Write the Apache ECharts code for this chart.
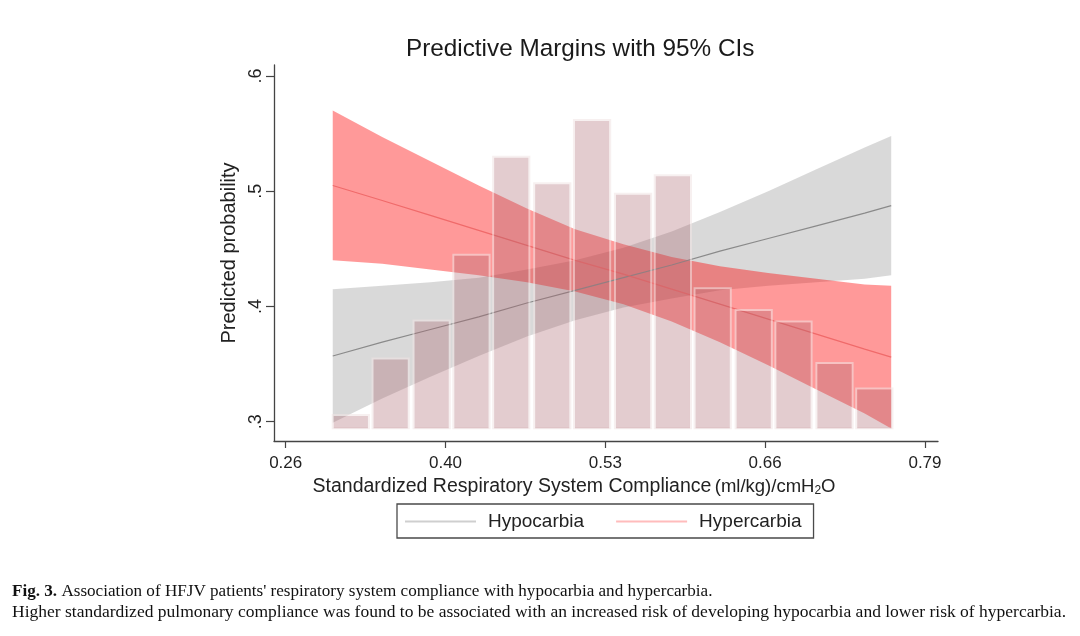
<!DOCTYPE html>
<html><head><meta charset="utf-8">
<script src="https://cdn.jsdelivr.net/npm/echarts@6/dist/echarts.min.js"></script>
<style>html,body{margin:0;padding:0;background:#fff}#c{width:1080px;height:636px}</style>
</head><body><div id="c"></div>
<script>
// ---- data ----
const xTickValues = [0.26, 0.3925, 0.525, 0.6575, 0.79];
const xTickLabels = ['0.26', '0.40', '0.53', '0.66', '0.79'];
const yTickValues = [0.3, 0.4, 0.5, 0.6];
const yTickLabels = ['.3', '.4', '.5', '.6'];

// histogram bins (centres) and bar tops
const binCenters = [0.314, 0.347, 0.381, 0.414, 0.447, 0.481, 0.514, 0.548, 0.581, 0.614, 0.648, 0.681, 0.715, 0.748];
const binHeights = [0.305, 0.354, 0.387, 0.444, 0.529, 0.506, 0.561, 0.497, 0.513, 0.415, 0.396, 0.386, 0.350, 0.328];
const binBase = 0.2943;

// predictive margins
const marginX   = [0.299, 0.34, 0.38, 0.42, 0.46, 0.50, 0.54, 0.58, 0.62, 0.66, 0.70, 0.74, 0.762];
const hypoFit   = [0.357, 0.369, 0.380, 0.391, 0.403, 0.414, 0.425, 0.436, 0.448, 0.459, 0.470, 0.481, 0.4875];
const hypoHi    = [0.415, 0.418, 0.421, 0.425, 0.432, 0.440, 0.451, 0.465, 0.482, 0.500, 0.519, 0.538, 0.548];
const hypoLo    = [0.299, 0.320, 0.339, 0.357, 0.374, 0.388, 0.399, 0.407, 0.414, 0.418, 0.421, 0.424, 0.427];
const hyperFit  = [0.505, 0.492, 0.479, 0.466, 0.453, 0.440, 0.428, 0.415, 0.402, 0.389, 0.376, 0.363, 0.356];
const hyperHi   = [0.570, 0.547, 0.526, 0.505, 0.485, 0.467, 0.454, 0.443, 0.435, 0.429, 0.424, 0.419, 0.418];
const hyperLo   = [0.440, 0.437, 0.432, 0.427, 0.421, 0.413, 0.402, 0.387, 0.369, 0.349, 0.328, 0.307, 0.294];

const seriesNames = ['Hypocarbia', 'Hypercarbia'];
const titleText = 'Predictive Margins with 95% CIs';
const yTitle = 'Predicted probability';
const captionLine1 = 'Association of HFJV patients\' respiratory system compliance with hypocarbia and hypercarbia.';
const captionLine2 = 'Higher standardized pulmonary compliance was found to be associated with an increased risk of developing hypocarbia and lower risk of hypercarbia.';

// ---- chart ----
const SANS = '"Liberation Sans", Arial, sans-serif';
const SERIF = '"Liberation Serif", "Times New Roman", serif';
const chart = echarts.init(document.getElementById('c'), null, {renderer: 'canvas'});

function nearestIdx(arr, v) {
  let b = 0;
  for (let i = 1; i < arr.length; i++) if (Math.abs(arr[i] - v) < Math.abs(arr[b] - v)) b = i;
  return b;
}

function bandSeries(name, lo, hi, color, z) {
  return {
    type: 'custom', name: name, z: z, silent: true,
    data: marginX.map((x, i) => [x, lo[i], hi[i]]),
    encode: {x: 0, y: [1, 2]},
    renderItem: function (params, api) {
      if (params.dataIndex !== 0) return null;
      const pts = [];
      for (let i = 0; i < marginX.length; i++) pts.push(api.coord([marginX[i], hi[i]]));
      for (let i = marginX.length - 1; i >= 0; i--) pts.push(api.coord([marginX[i], lo[i]]));
      return {type: 'polygon', shape: {points: pts}, style: {fill: color}};
    }
  };
}

const option = {
  backgroundColor: '#fff',
  animation: false,
  title: {
    text: titleText, left: 401, top: 32,
    textStyle: {fontFamily: SANS, fontSize: 24.3, fontWeight: 'normal', color: '#1a1a1a'}
  },
  grid: {left: 274, right: 142, top: 65, bottom: 195, containLabel: false},
  xAxis: {
    type: 'value', min: 0.2503, max: 0.8008,
    axisLine: {show: true, onZero: false, lineStyle: {color: '#444', width: 1.3}},
    axisTick: {show: true, customValues: xTickValues, length: 7, lineStyle: {color: '#444', width: 1.2}},
    axisLabel: {
      customValues: xTickValues, margin: 14, fontSize: 17, color: '#222', fontFamily: SANS,
      formatter: function (v) { return xTickLabels[nearestIdx(xTickValues, v)]; }
    },
    splitLine: {show: false},
    name: '{a|Standardized Respiratory System Compliance} {b|(ml/kg)/cmH}{s|2}{b|O}',
    nameLocation: 'middle', nameGap: 32,
    nameTextStyle: {
      color: '#222', fontFamily: SANS, padding: [0, 64, 0, 0],
      rich: {
        a: {fontSize: 19.5, fontFamily: SANS, color: '#222'},
        b: {fontSize: 18.5, fontFamily: SANS, color: '#222'},
        s: {fontSize: 12, fontFamily: SANS, color: '#222', verticalAlign: 'bottom', padding: [8, 0, 0, 0]}
      }
    }
  },
  yAxis: {
    type: 'value', min: 0.2832, max: 0.6096,
    axisLine: {show: true, onZero: false, lineStyle: {color: '#444', width: 1.3}},
    axisTick: {show: true, customValues: yTickValues, length: 8, lineStyle: {color: '#444', width: 1.2}},
    axisLabel: {
      customValues: yTickValues, rotate: 90, margin: 9, fontSize: 18, color: '#222', fontFamily: SANS,
      formatter: function (v) { return yTickLabels[nearestIdx(yTickValues, v)]; }
    },
    splitLine: {show: false},
    name: yTitle, nameLocation: 'middle', nameRotate: 90, nameGap: 32,
    nameTextStyle: {fontSize: 20, color: '#222', fontFamily: SANS}
  },
  legend: {
    data: [
      {name: seriesNames[0], icon: 'rect', itemStyle: {color: '#cfcfcf'}, lineStyle: {color: '#cfcfcf', width: 1.5}},
      {name: seriesNames[1], icon: 'rect', itemStyle: {color: '#ffbcbc'}, lineStyle: {color: '#ffbcbc', width: 1.5}}
    ],
    left: 397, top: 504, orient: 'horizontal',
    itemWidth: 71, itemHeight: 2, itemGap: 32,
    padding: [8, 12, 7, 8],
    borderColor: '#4a4a4a', borderWidth: 1.3, borderRadius: 0,
    textStyle: {fontSize: 19, color: '#222', fontFamily: SANS, padding: [0, 0, 0, 7], lineHeight: 19}
  },
  graphic: [
    {
      type: 'text', left: 12, top: 583, z: 10,
      style: {
        text: '{b|Fig. 3.} ' + captionLine1,
        font: '17.1px ' + SERIF, fill: '#111',
        rich: {b: {fontWeight: 'bold', fontSize: 17.1, fontFamily: SERIF, fill: '#111'}}
      }
    },
    {
      type: 'text', left: 12, top: 603, z: 10,
      style: {text: captionLine2, font: '17.5px ' + SERIF, fill: '#111'}
    }
  ],
  series: [
    bandSeries('hypoCI', hypoLo, hypoHi, 'rgba(128,128,128,0.3)', 1),
    bandSeries('hyperCI', hyperLo, hyperHi, 'rgba(255,0,0,0.4)', 2),
    {
      type: 'line', name: seriesNames[0], z: 3, symbol: 'none', silent: true,
      data: marginX.map((x, i) => [x, hypoFit[i]]),
      lineStyle: {color: '#8a8a8a', width: 1.2}, itemStyle: {color: '#8a8a8a'}
    },
    {
      type: 'line', name: seriesNames[1], z: 3, symbol: 'none', silent: true,
      data: marginX.map((x, i) => [x, hyperFit[i]]),
      lineStyle: {color: '#f06a6a', width: 1.2}, itemStyle: {color: '#f06a6a'}
    },
    {
      type: 'custom', name: 'histogram', z: 4, silent: true,
      data: binCenters.map((c, i) => [c, binHeights[i]]),
      encode: {x: 0, y: 1},
      renderItem: function (params, api) {
        const c = api.value(0), h = api.value(1);
        const pitch = binCenters[1] - binCenters[0];
        const p0 = api.coord([c - pitch / 2, h]);
        const p1 = api.coord([c + pitch / 2, binBase]);
        const full = p1[0] - p0[0];
        const w = full * 0.86;
        const x = p0[0] + (full - w) / 2;
        const y = p0[1], hh = p1[1] - p0[1];
        return {
          type: 'group', children: [
            {type: 'rect', shape: {x: x - 1, y: y - 1, width: w + 2, height: hh + 1},
             style: {fill: 'none', stroke: 'rgba(240,228,228,0.55)', lineWidth: 2}},
            {type: 'rect', shape: {x: x, y: y, width: w, height: hh},
             style: {fill: 'rgba(170,100,110,0.33)'}}
          ]
        };
      }
    }
  ]
};
chart.setOption(option);
</script>
</body></html>
